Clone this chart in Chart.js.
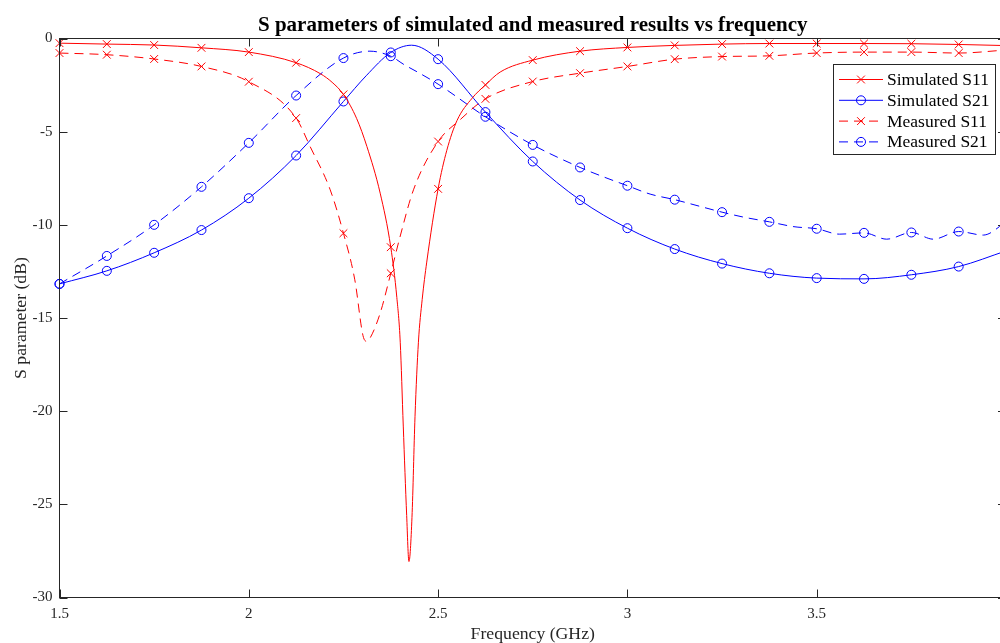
<!DOCTYPE html>
<html>
<head>
<meta charset="utf-8">
<title>S parameters vs frequency</title>
<script src="https://cdn.jsdelivr.net/npm/chart.js@4.4.1/dist/chart.umd.min.js"></script>
<style>
  html, body { margin: 0; padding: 0; overflow: hidden; background: #fff; }
</style>
</head>
<body>
<canvas id="sChart" width="1016" height="650"></canvas>
<script>
// Frequency in GHz, S parameters in dB
var simS11Freq = [1.5, 1.625, 1.75, 1.875, 2.0, 2.125, 2.19, 2.22, 2.25, 2.285, 2.312, 2.347, 2.375, 2.391, 2.4,
    2.408, 2.417, 2.423, 2.431, 2.439, 2.448, 2.458, 2.47, 2.5, 2.523, 2.55, 2.59, 2.625, 2.664,
    2.75, 2.875, 3.0, 3.125, 3.25, 3.375, 3.5, 3.625, 3.75, 3.875, 4.0];
var simS11 = [-0.25, -0.30, -0.35, -0.50, -0.73, -1.30, -1.9, -2.35, -3.0, -4.3, -5.8, -8.3, -11.2, -13.9, -16.3,
    -20.8, -25.6, -28.07, -25.7, -20.3, -16.3, -14.0, -12.0, -8.07, -6.0, -4.4, -3.2, -2.49, -1.8,
    -1.16, -0.68, -0.48, -0.37, -0.30, -0.27, -0.27, -0.27, -0.28, -0.32, -0.38];

var simS21Freq = [1.5, 1.625, 1.75, 1.875, 2.0, 2.125, 2.25, 2.31, 2.375, 2.43, 2.5, 2.625,
    2.75, 2.875, 3.0, 3.125, 3.25, 3.375, 3.5, 3.625, 3.75, 3.875, 4.0];
var simS21 = [-13.17, -12.47, -11.5, -10.28, -8.57, -6.28, -3.38, -2.0, -0.75, -0.36, -1.11, -3.95,
    -6.6, -8.67, -10.18, -11.3, -12.08, -12.6, -12.86, -12.9, -12.68, -12.24, -11.4];

var measS11Freq = [1.5, 1.625, 1.75, 1.875, 2.0, 2.125, 2.162, 2.215, 2.25, 2.28, 2.303, 2.312, 2.321,
    2.347, 2.375, 2.4, 2.435, 2.5, 2.558, 2.625, 2.75, 2.875, 3.0, 3.125, 3.25, 3.375, 3.5,
    3.625, 3.75, 3.875, 4.0];
var measS11 = [-0.78, -0.87, -1.1, -1.5, -2.32, -4.27, -5.8, -8.12, -10.45, -12.95, -16.05, -16.25, -16.05,
    -14.74, -12.6, -10.6, -8.12, -5.53, -4.36, -3.24, -2.31, -1.86, -1.5, -1.11, -0.97, -0.93, -0.78,
    -0.73, -0.73, -0.78, -0.62];

var measS21Freq = [1.5, 1.625, 1.75, 1.875, 2.0, 2.125, 2.25, 2.32, 2.375, 2.41, 2.45, 2.5, 2.625,
    2.75, 2.875, 2.94, 3.0, 3.06, 3.125, 3.19, 3.25, 3.31, 3.375, 3.44, 3.5, 3.56, 3.625, 3.685,
    3.75, 3.808, 3.875, 3.94, 4.0];
var measS21 = [-13.17, -11.67, -10.0, -7.96, -5.6, -3.06, -1.05, -0.68, -0.95, -1.4, -1.85, -2.45, -4.2,
    -5.71, -6.92, -7.45, -7.9, -8.35, -8.65, -9.0, -9.32, -9.6, -9.84, -10.1, -10.21, -10.5, -10.43, -10.77,
    -10.41, -10.77, -10.36, -10.55, -9.85];

var xTicks = { min: 1.5, max: 4, step: 0.5 };
var yTicks = { min: -30, max: 0, step: 5 };

var serif = "'Liberation Serif', 'Times New Roman', serif";
var axisColor = '#262626';

function toPoints(freq, vals) {
    return freq.map(function (f, i) { return { x: f, y: vals[i] }; });
}

// markers sit every 0.125 GHz, the other points only shape the curve
function onMarkerGrid(f) {
    return Math.abs(f * 8 - Math.round(f * 8)) < 1e-6;
}

function series(label, freq, vals, color, marker, size, dash) {
    var radius = function (ctx) {
        return ctx.raw && onMarkerGrid(ctx.raw.x) ? size : 0;
    };
    return {
        label: label,
        data: toPoints(freq, vals),
        borderColor: color,
        borderWidth: 1,
        borderDash: dash,
        cubicInterpolationMode: 'monotone',
        pointStyle: marker,
        markerSize: size,
        pointRadius: radius,
        pointHoverRadius: radius,
        pointBorderColor: color,
        pointBackgroundColor: 'rgba(0,0,0,0)',
        pointBorderWidth: 1,
        fill: false,
        clip: false
    };
}

// box around the axes with inward ticks, plus the legend
var axesBox = {
    id: 'axesBox',
    afterDraw: function (chart) {
        var ctx = chart.ctx, a = chart.chartArea;
        var xs = chart.scales.x, ys = chart.scales.y;
        var tick = 8;
        ctx.save();
        ctx.strokeStyle = axisColor;
        ctx.lineWidth = 1;
        ctx.strokeRect(a.left, a.top, a.right - a.left, a.bottom - a.top);
        ctx.beginPath();
        xs.ticks.forEach(function (t) {
            var px = Math.round(xs.getPixelForValue(t.value)) + 0.5;
            ctx.moveTo(px, a.bottom); ctx.lineTo(px, a.bottom - tick);
            ctx.moveTo(px, a.top); ctx.lineTo(px, a.top + tick);
        });
        ys.ticks.forEach(function (t) {
            var py = Math.round(ys.getPixelForValue(t.value)) + 0.5;
            ctx.moveTo(a.left, py); ctx.lineTo(a.left + tick, py);
            ctx.moveTo(a.right, py); ctx.lineTo(a.right - tick, py);
        });
        ctx.stroke();

        // legend
        var left = 833.5, top = 64.5, w = 162, h = 90, rowH = 20.8;
        ctx.fillStyle = '#fff';
        ctx.fillRect(left, top, w, h);
        ctx.strokeRect(left, top, w, h);
        ctx.font = '17.5px ' + serif;
        ctx.textBaseline = 'middle';
        chart.data.datasets.forEach(function (ds, i) {
            var y = top + 15 + i * rowH;
            ctx.strokeStyle = ds.borderColor;
            ctx.setLineDash(ds.borderDash || []);
            ctx.beginPath();
            ctx.moveTo(left + 5.5, y);
            ctx.lineTo(left + 49.5, y);
            ctx.stroke();
            ctx.setLineDash([]);
            ctx.fillStyle = 'rgba(0,0,0,0)';
            Chart.helpers.drawPoint(ctx, { pointStyle: ds.pointStyle, radius: ds.markerSize, borderWidth: 1, rotation: 0 }, left + 27.5, y);
            ctx.fillStyle = '#000';
            ctx.fillText(ds.label, left + 53.5, y + 1);
        });
        ctx.restore();
    }
};

var chart = new Chart(document.getElementById('sChart'), {
    type: 'line',
    data: {
        datasets: [
            series('Simulated S11', simS11Freq, simS11, 'rgb(255,0,0)', 'crossRot', 5.5, []),
            series('Simulated S21', simS21Freq, simS21, 'rgb(0,0,255)', 'circle', 4.5, []),
            series('Measured S11', measS11Freq, measS11, 'rgb(255,0,0)', 'crossRot', 5.5, [9, 6]),
            series('Measured S21', measS21Freq, measS21, 'rgb(0,0,255)', 'circle', 4.5, [9, 6])
        ]
    },
    options: {
        responsive: false,
        animation: false,
        events: [],
        layout: { padding: { left: 0, right: 10, top: 0, bottom: 0 } },
        plugins: {
            legend: { display: false },
            tooltip: { enabled: false },
            title: {
                display: true,
                fullSize: false,
                text: 'S parameters of simulated and measured results vs frequency',
                color: '#000',
                font: { family: serif, size: 21, weight: 'bold', lineHeight: 1.2 },
                padding: { top: 13.3, bottom: 0 }
            }
        },
        scales: {
            x: {
                type: 'linear',
                min: xTicks.min,
                max: xTicks.max,
                grid: { display: false, drawTicks: false },
                border: { display: false },
                ticks: {
                    stepSize: xTicks.step,
                    padding: 7.5,
                    color: axisColor,
                    font: { family: serif, size: 15 },
                    maxRotation: 0,
                    autoSkip: false,
                    callback: function (v) { return String(v); }
                },
                title: {
                    display: true,
                    text: 'Frequency (GHz)',
                    color: axisColor,
                    font: { family: serif, size: 17.7, lineHeight: 1.2 },
                    padding: { top: 0, bottom: 5.5 }
                },
                afterFit: function (scale) {
                    scale.height = 52.5;
                    // keep the plot edges fixed regardless of the end labels
                    scale.paddingLeft = 0;
                    scale.paddingRight = 0;
                }
            },
            y: {
                type: 'linear',
                min: yTicks.min,
                max: yTicks.max,
                grid: { display: false, drawTicks: false },
                border: { display: false },
                ticks: {
                    stepSize: yTicks.step,
                    padding: 7,
                    color: axisColor,
                    font: { family: serif, size: 15 },
                    callback: function (v) { return String(v); }
                },
                title: {
                    display: true,
                    text: 'S parameter (dB)',
                    color: axisColor,
                    font: { family: serif, size: 17.7, lineHeight: 1.2 },
                    padding: { top: 10.5, bottom: 0 }
                },
                afterFit: function (scale) {
                    scale.width = 59.5;
                    scale.paddingTop = 0;
                    scale.paddingBottom = 0;
                }
            }
        }
    },
    plugins: [axesBox]
});
</script>
</body>
</html>
